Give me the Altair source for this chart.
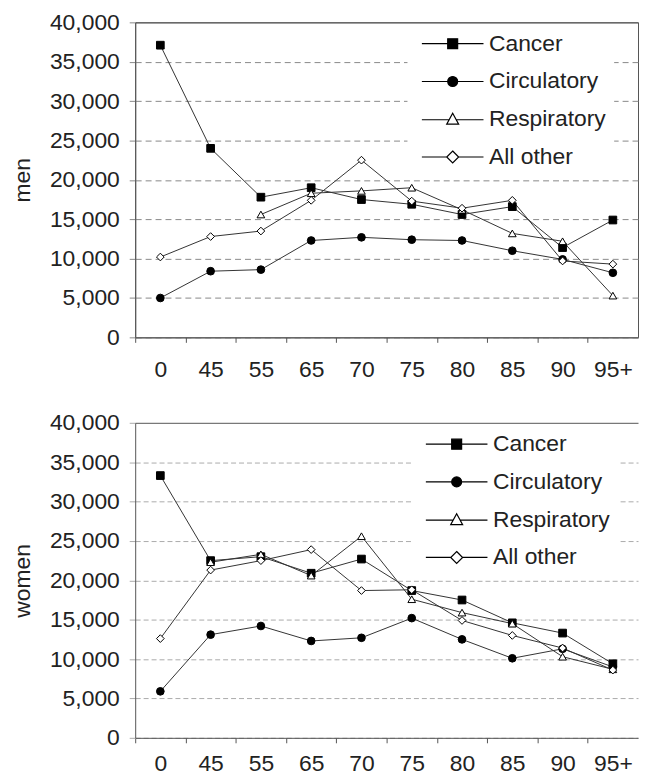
import json
import altair as alt
import pandas as pd

# ---------------- data ----------------
ages = ["0", "45", "55", "65", "70", "75", "80", "85", "90", "95+"]
series = ["Cancer", "Circulatory", "Respiratory", "All other"]

men_cancer = [37100, 24000, 17800, 19000, 17500, 16900, 15600, 16600, 11400, 14900]
men_circulatory = [5000, 8400, 8600, 12300, 12700, 12400, 12300, 11000, 9900, 8200]
men_respiratory = [None, None, 15600, 18300, 18600, 19000, 16200, 13200, 12200, 5300]
men_other = [10200, 12800, 13500, 17400, 22500, 17300, 16400, 17400, 9700, 9300]

women_cancer = [33300, 22500, 23000, 20900, 22700, 18700, 17500, 14600, 13300, 9400]
women_circulatory = [5900, 13100, 14200, 12300, 12700, 15200, 12500, 10100, 11300, 9000]
women_respiratory = [None, 22300, 23300, 20600, 25600, 17600, 15900, 14500, 10300, 8700]
women_other = [12600, 21300, 22500, 23900, 18700, 18800, 14900, 13000, 11400, 8600]

y_ticks = [0, 5000, 10000, 15000, 20000, 25000, 30000, 35000, 40000]

# ---------------- styling ----------------
FONT = "Liberation Sans"
FS = 23
shapes = ["square", "circle", "triangle-up", "diamond"]
fills = ["black", "black", "white", "white"]
legend_paths = [
    "M-1,0H11.4M4.2,-1H6.2V1H4.2Z",
    "M-1,0H11.4M4.2,0A1,1,0,1,0,6.2,0A1,1,0,1,0,4.2,0Z",
    "M-1,0.1H4.5M5.9,0.1H11.4M5.2,-1.2L6.4,1L4,1Z",
    "M-1,0H4M6.4,0H11.4M5.2,-1.2L6.4,0L5.2,1.2L4,0Z",
]


def long_df(cols):
    rows = []
    for s, vals in zip(series, cols):
        for i, (a, v) in enumerate(zip(ages, vals)):
            if v is not None:
                rows.append({"age": a, "idx": i, "series": s, "value": v})
    return pd.DataFrame(rows)


W, H = 506, 317
n = len(ages)
x_ticks = [i - 0.5 for i in range(n)]
label_arr = json.dumps(ages)


def panel(df, title, label_pad, frame, grid_color, dash, leg_x):
    x = alt.X(
        "idx:Q",
        scale=alt.Scale(domain=[-0.5, n - 0.5], nice=False, zero=False),
        axis=alt.Axis(
            values=x_ticks,
            labelExpr=f"{label_arr}[datum.value + 0.5]",
            labelOffset=W / n / 2,
            labelFlush=False,
            labelOverlap=False,
            labelPadding=label_pad,
            tickSize=5,
            tickColor="#555",
            domainColor="#555",
            grid=False,
            title=None,
        ),
    )
    y = alt.Y(
        "value:Q",
        scale=alt.Scale(domain=[0, 40000], nice=False),
        axis=alt.Axis(
            values=y_ticks,
            format=",.0f",
            title=title,
            grid=True,
            gridDash={"condition": {"test": "datum.value >= 40000", "value": []}, "value": dash},
            gridColor={"condition": {"test": "datum.value >= 40000", "value": "#555"}, "value": grid_color},
            tickSize=6,
            tickColor=grid_color,
            domainColor="#555",
            labelPadding=10,
            titlePadding=15,
        ),
    )
    lines = alt.Chart(df).mark_line(color="#333", strokeWidth=1).encode(
        x=x, y=y, detail="series:N", order="idx:Q"
    )
    point_layers = []
    for s, shp, fl in zip(series, shapes, fills):
        point_layers.append(
            alt.Chart(df)
            .transform_filter(alt.datum.series == s)
            .mark_point(shape=shp, fill=fl, filled=True, stroke="black",
                        strokeWidth=1, size=60, opacity=1)
            .encode(x=x, y=y)
        )
    leg = alt.Legend(
        title=None,
        orient="none",
        legendX=leg_x,
        legendY=2,
        fillColor="white",
        padding=8,
        labelFont=FONT,
        labelFontSize=FS,
        labelColor="#222",
        labelOffset=51,
        symbolSize=100,
        symbolStrokeWidth=1.2,
        symbolStrokeColor="black",
        symbolOpacity=1,
        rowPadding=14,
    )
    legend_layer = alt.Chart(df).transform_filter("false").mark_point(
        filled=False, strokeWidth=1.2, opacity=1
    ).encode(
        x=x,
        y=y,
        shape=alt.Shape("series:N", scale=alt.Scale(domain=series, range=legend_paths), legend=leg),
        fill=alt.Fill("series:N", scale=alt.Scale(domain=series, range=fills), legend=leg),
        stroke=alt.Stroke("series:N", scale=alt.Scale(domain=series, range=["black"] * 4), legend=leg),
    )
    return alt.layer(lines, *point_layers, legend_layer).properties(
        width=W, height=H, view=alt.ViewBackground(stroke=frame)
    )


top = panel(long_df([men_cancer, men_circulatory, men_respiratory, men_other]),
            "men", 16, "#555", "#888", [6, 4], 274)
bottom = panel(long_df([women_cancer, women_circulatory, women_respiratory, women_other]),
               "women", 10, "transparent", "#aaa", [5, 3], 278)

chart = (
    alt.vconcat(top, bottom, spacing=29)
    .resolve_scale(shape="independent", fill="independent", stroke="independent")
    .properties(padding={"left": 3, "top": 0, "right": 0, "bottom": 0}, background="white")
    .configure_axis(
        labelFont=FONT,
        labelFontSize=FS,
        labelColor="#222",
        titleFont=FONT,
        titleFontSize=FS,
        titleFontWeight="normal",
        titleColor="#222",
    )
)

chart.save("out.html", embed_options={"renderer": "svg", "actions": False})
